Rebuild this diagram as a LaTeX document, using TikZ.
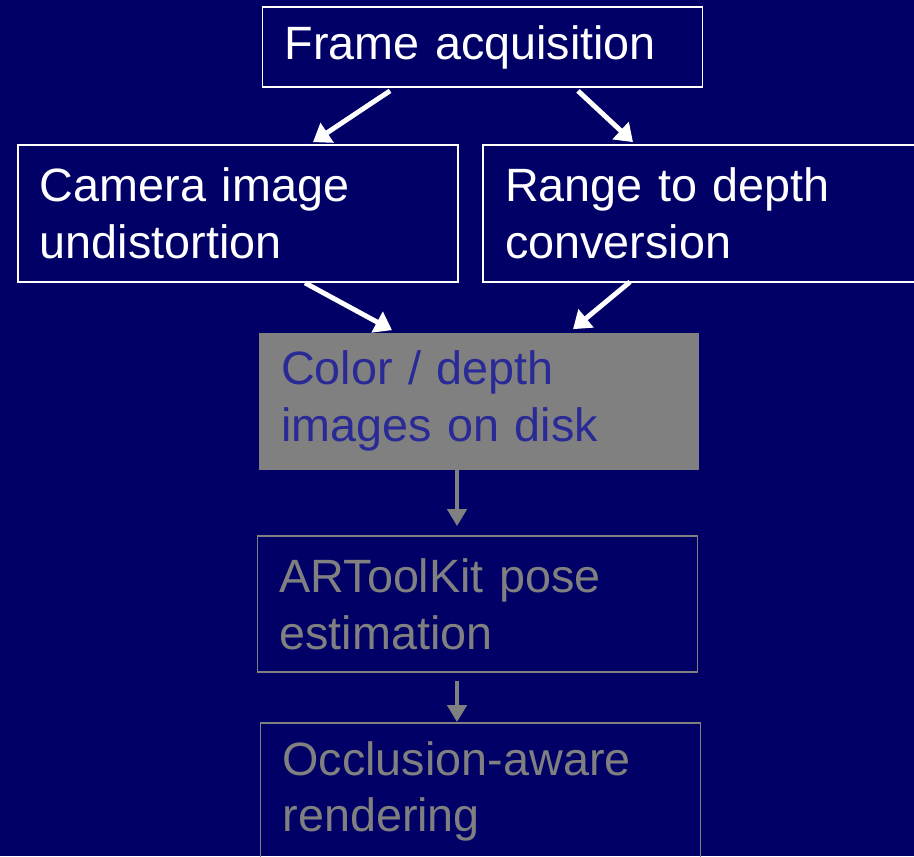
\documentclass[tikz,border=0pt]{standalone}
\usepackage{fontspec}
\setmainfont{Liberation Sans}
\usepackage{tikz}
\usetikzlibrary{
    arrows.meta
}

\definecolor{navy}{RGB}{0,0,102}
\definecolor{midgray}{RGB}{128,128,128}
\definecolor{slateblue}{RGB}{42,42,150}

\begin{document}
\begin{tikzpicture}[
    box/.style={rectangle, text width=7.92cm, inner xsep=0.44cm, inner ysep=0pt,
        minimum height=2.74cm, align=left, font=\fontsize{26.6}{32.3}\selectfont},
    stepbox/.style={box, draw=white, line width=1pt, text=white},
    donebox/.style={box, fill=midgray, text=slateblue},
    waitbox/.style={box, draw=midgray, line width=1pt, text=midgray},
    flow/.style={white, line width=2.8pt, -{Triangle[length=0.34cm,width=0.46cm]}},
    idle/.style={midgray, line width=2.8pt, -{Triangle[length=0.34cm,width=0.38cm]}}
]

% Background
\fill[navy] (0,0) rectangle (18.28,-17.12);
\useasboundingbox (0,0) rectangle (18.28,-17.12);

% Boxes
\node[stepbox, minimum height=1.6cm] (frame) at (9.65,-0.94) {Frame acquisition};
\node[stepbox] (camera) at (4.76,-4.27) {Camera image\\undistortion};
\node[stepbox] (range) at (14.06,-4.27) {Range to depth\\conversion};
\node[donebox] (disk) at (9.58,-8.02) {Color / depth\\images on disk};
\node[waitbox, minimum height=2.72cm] (pose) at (9.55,-12.08) {ARToolKit pose\\estimation};
\node[waitbox] (render) at (9.61,-15.83) {Occlusion-aware\\rendering};

% White arrows
\draw[flow] ([xshift=-1.85cm,yshift=-0.06cm]frame.south) -- ([xshift=1.5cm,yshift=0.04cm]camera.north);
\draw[flow] ([xshift=1.91cm,yshift=-0.06cm]frame.south) -- ([xshift=-1.4cm,yshift=0.04cm]range.north);
\draw[flow] ([xshift=1.34cm]camera.south) -- ([xshift=-1.74cm,yshift=0.04cm]disk.north);
\draw[flow] ([xshift=-1.46cm,yshift=0.02cm]range.south) -- ([xshift=1.88cm,yshift=0.06cm]disk.north);

% Gray arrows
\draw[idle] ([xshift=-0.44cm]disk.south) -- ([xshift=-0.41cm,yshift=0.18cm]pose.north);
\draw[idle] ([xshift=-0.41cm,yshift=-0.16cm]pose.south) -- ([xshift=-0.47cm]render.north);

\end{tikzpicture}
\end{document}
